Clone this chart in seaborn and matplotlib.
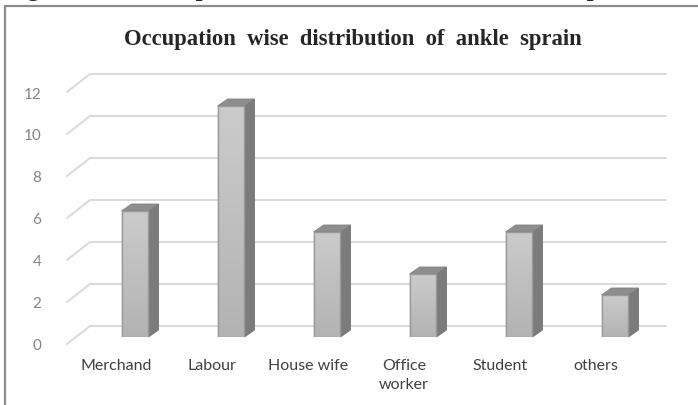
import numpy as np
import matplotlib.pyplot as plt
import seaborn as sns
from matplotlib.patches import Polygon
from matplotlib.lines import Line2D
from matplotlib.transforms import ScaledTranslation
from matplotlib.colors import LinearSegmentedColormap

# data
occupations = ['Merchand', 'Labour', 'House wife', 'Office\nworker', 'Student', 'others']
counts = [6, 11, 5, 3, 5, 2]
yticks = [0, 2, 4, 6, 8, 10, 12]

sns.set_style('white')
plt.rcParams['font.family'] = ['Lato', 'DejaVu Sans']

W, H = 698, 406
fig = plt.figure(figsize=(W / 100, H / 100), dpi=100)
# axes: x from 87px to 663px, y zero at bar bottoms (338px), 21px per unit
ax = fig.add_axes([87 / W, (H - 338) / H, 576 / W, 252 / H])

px_x = 96.0   # pixels per category
px_y = 21.0   # pixels per unit

# 3d-ish gridlines: back wall + diagonal floor edge
grid_col = '#d9d9d9'
for v in yticks:
    bx0 = -0.5 + 3 / px_x
    bx1 = 5.5 + 3 / px_x
    by = v + 11 / px_y
    fx = -0.5 - 20 / px_x
    fy = v - 7 / px_y
    ax.plot([fx, bx0, bx1], [fy, by, by], color=grid_col, lw=1.4,
            clip_on=False, zorder=0, solid_joinstyle='miter')

sns.barplot(x=occupations, y=counts, color='#bebebe', width=0.28,
            edgecolor='#9a9a9a', linewidth=1.0, saturation=1, ax=ax, zorder=3)

# light-to-dark vertical gradient on the front faces
grad_cmap = LinearSegmentedColormap.from_list('face', ['#b3b3b3', '#cbcbcb'])
grad = np.linspace(0, 1, 64).reshape(-1, 1)

dx = 10 / px_x
dy = 7 / px_y
for p in list(ax.patches):
    x0 = p.get_x()
    w = p.get_width()
    h = p.get_height()
    x1 = x0 + w
    im = ax.imshow(grad, extent=[x0, x1, 0, h], origin='lower', cmap=grad_cmap,
                   aspect='auto', zorder=3.2, interpolation='bilinear')
    im.set_clip_path(p)
    edge = Polygon([(x0, 0), (x1, 0), (x1, h), (x0, h)], closed=True,
                   fill=False, edgecolor='#9a9a9a', lw=1.0, zorder=3.4)
    ax.add_patch(edge)
    side = Polygon([(x1, 0), (x1 + dx, dy), (x1 + dx, h + dy), (x1, h)],
                   closed=True, facecolor='#7b7b7b', edgecolor='#707070',
                   lw=0.6, zorder=3, clip_on=False)
    top = Polygon([(x0, h), (x1, h), (x1 + dx, h + dy), (x0 + dx, h + dy)],
                  closed=True, facecolor='#8e8e8e', edgecolor='#808080',
                  lw=0.6, zorder=3, clip_on=False)
    ax.add_patch(side)
    ax.add_patch(top)

ax.set_xlim(-0.5, 5.5)
ax.set_ylim(0, 12)

for s in ax.spines.values():
    s.set_visible(False)
ax.set_xlabel('')
ax.set_ylabel('')
ax.set_yticks(yticks)
ax.tick_params(axis='both', length=0)
ax.tick_params(axis='y', pad=33, labelsize=11, labelcolor='#858585')
ax.tick_params(axis='x', pad=15, labelsize=11.5, labelcolor='#404040')

ydown = ScaledTranslation(0, -7 / 100, fig.dpi_scale_trans)
for lab in ax.get_yticklabels():
    lab.set_transform(lab.get_transform() + ydown)
xleft = ScaledTranslation(-19 / 100, 0, fig.dpi_scale_trans)
for lab in ax.get_xticklabels():
    lab.set_transform(lab.get_transform() + xleft)
    lab.set_linespacing(1.45)

# title
fig.text(353 / W, 1 - 40 / H, 'Occupation  wise  distribution  of  ankle  sprain',
         ha='center', va='center', fontsize=16.3, fontweight='bold',
         family=['Liberation Serif'])

# caption cut off at the top of the picture (only its lowest pixels show)
fig.text(5 / W, 1 + 4 / H,
         'Figure  8:     Occupation  wise  distribution  of  ankle  sprain',
         ha='left', va='baseline', fontsize=18, fontweight='bold',
         family=['Liberation Serif'])

# chart frame
frame_col = '#8c8c8c'
fig.add_artist(Line2D([5 / W, 5 / W], [0, 1 - 7 / H], color=frame_col, lw=1.6,
                      transform=fig.transFigure))
fig.add_artist(Line2D([5 / W, 1], [1 - 7 / H, 1 - 7 / H], color=frame_col, lw=1.6,
                      transform=fig.transFigure))

fig.savefig('out.png', dpi=100)
